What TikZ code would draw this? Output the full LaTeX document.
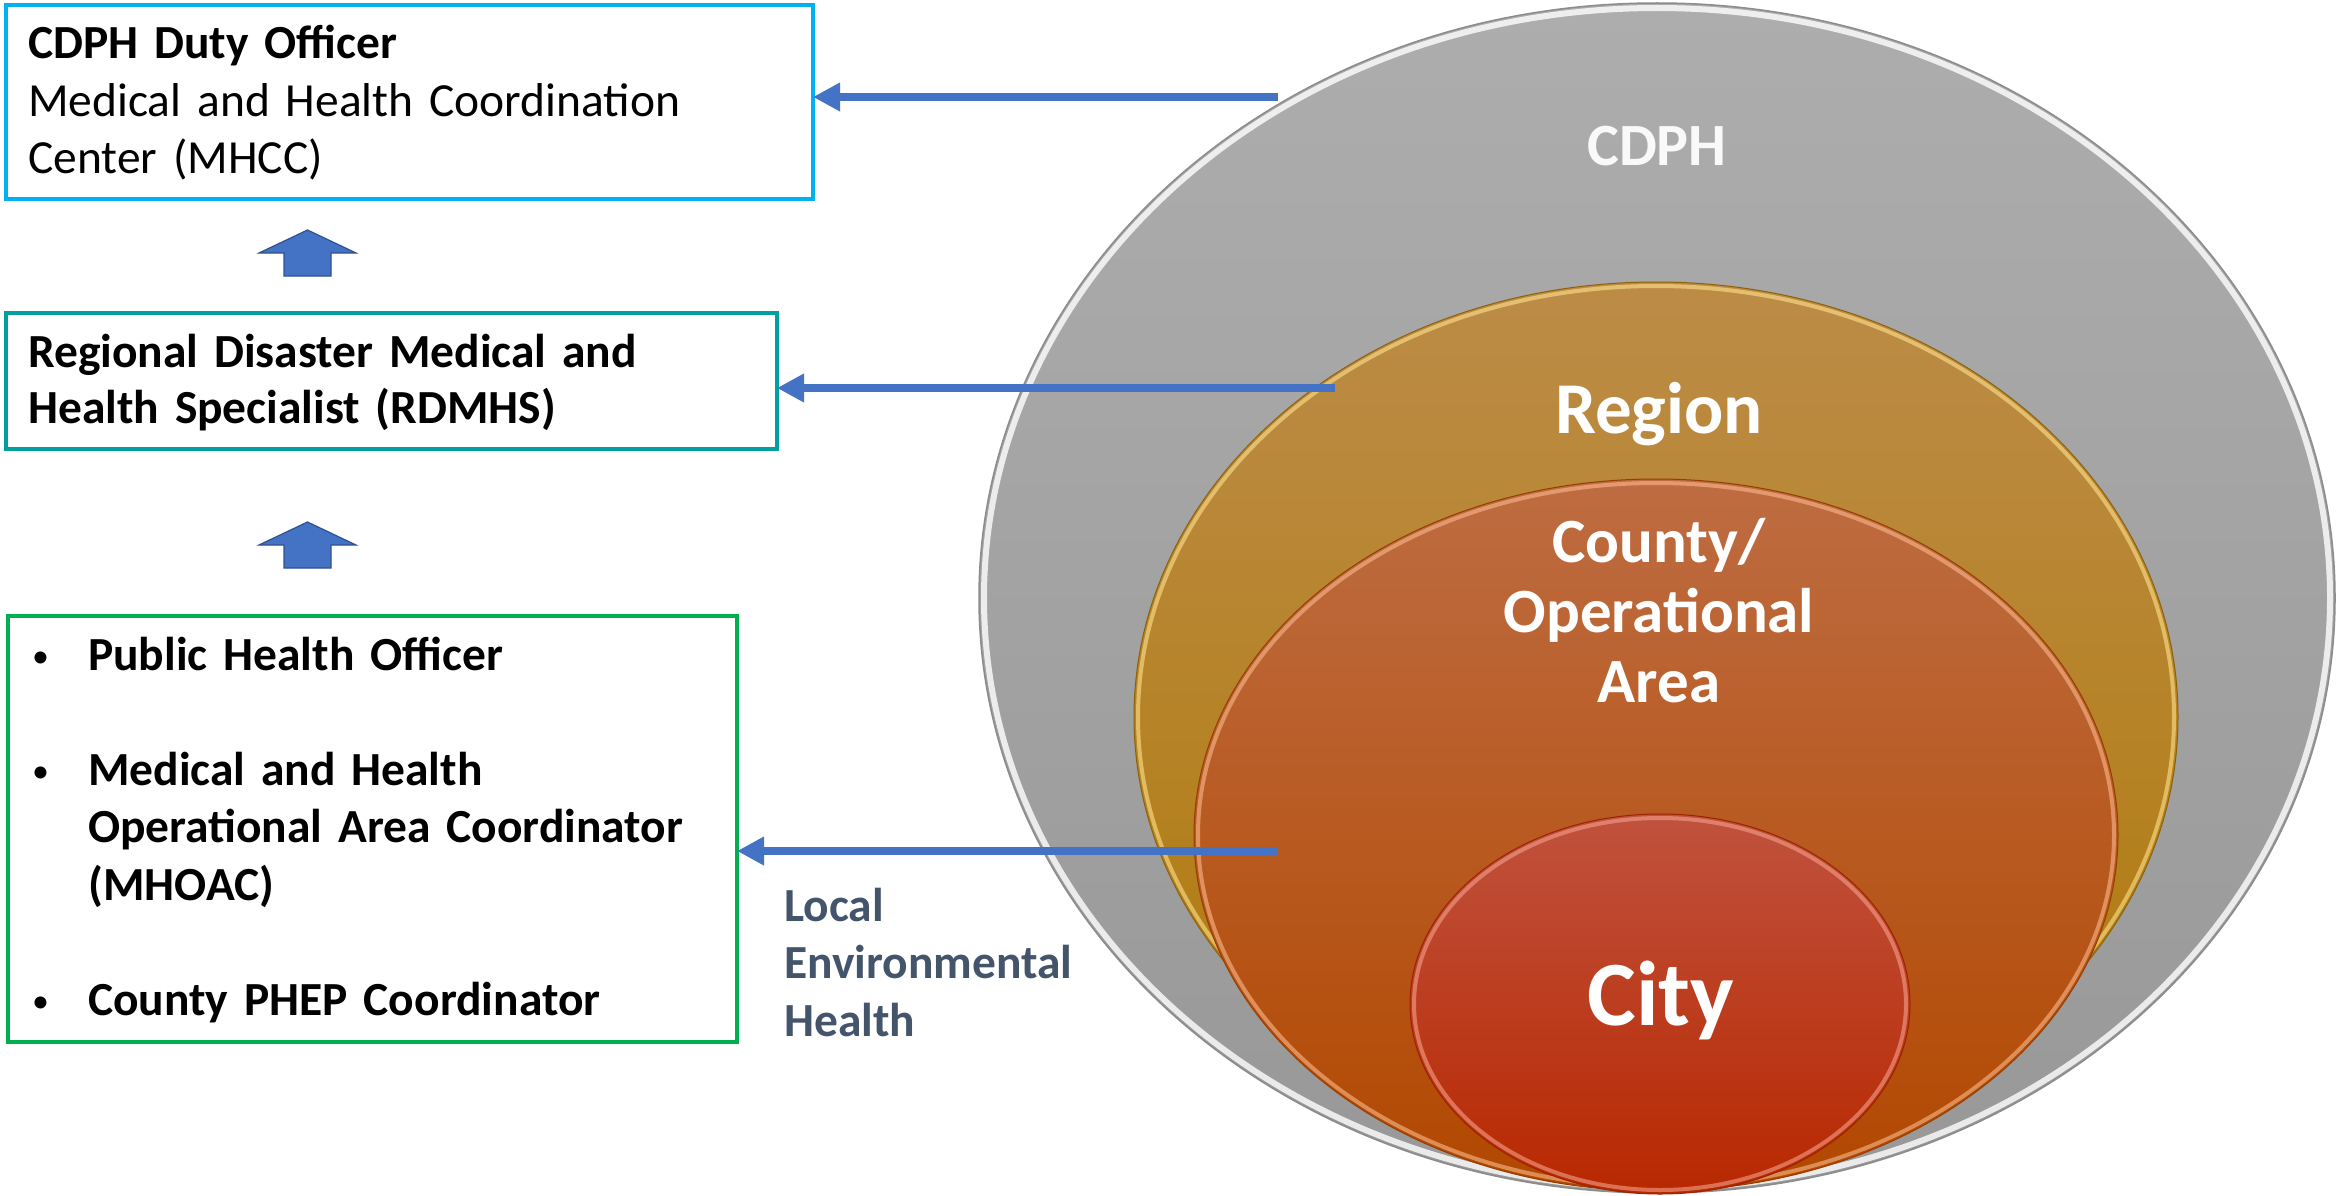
\documentclass[tikz,border=0pt]{standalone}
\usepackage{fontspec}
\setmainfont{Carlito}[WordSpace=0.75]
\usetikzlibrary{arrows.meta}
\definecolor{cyanbox}{RGB}{0,176,240}
\definecolor{tealbox}{RGB}{0,160,160}
\definecolor{greenbox}{RGB}{0,176,80}
\definecolor{arrowblue}{RGB}{68,114,196}
\definecolor{arrowedge}{RGB}{47,82,143}
\definecolor{slate}{RGB}{68,84,106}
\definecolor{grayT}{RGB}{173,173,173}
\definecolor{grayB}{RGB}{152,152,152}
\definecolor{grayEdge}{RGB}{140,140,140}
\definecolor{goldT}{RGB}{188,140,72}
\definecolor{goldB}{RGB}{176,122,8}
\definecolor{goldRim}{RGB}{255,226,140}
\definecolor{cntyT}{RGB}{190,108,66}
\definecolor{cntyB}{RGB}{178,72,0}
\definecolor{cntyRim}{RGB}{250,185,140}
\definecolor{cityT}{RGB}{192,82,62}
\definecolor{cityB}{RGB}{184,40,0}
\definecolor{cityRim}{RGB}{245,160,140}
\newcommand{\smallbul}{\makebox[56pt][l]{\raisebox{3pt}{\fontsize{34}{34}\selectfont\mdseries •}}}
\begin{document}
\begin{tikzpicture}[x=1pt,y=-1pt,
  boxframe/.style={draw=#1, line width=3.5pt, fill=white, inner sep=0pt, outer sep=0pt, anchor=north west},
  boxtext/.style={inner sep=0pt, anchor=base west, text width=#1, align=left,
    font=\fontsize{47.5}{57.5}\selectfont},
  conn/.style={draw=arrowblue, line width=8pt, -{Triangle[length=27pt,width=27pt]}},
  uparrow/.style={fill=arrowblue, draw=arrowedge, line width=1.2pt},
  circtxt/.style={inner sep=0pt, text=white, anchor=base, align=center, text width=500pt}
]
\fill[white] (0,0) rectangle (2343,1196);
\useasboundingbox (0,0) rectangle (2343,1196);

% ---- nested ellipses ----
\shade[top color=grayT, bottom color=grayB] (1657,598) ellipse [x radius=678, y radius=595];
\draw[white, line width=6pt, opacity=0.8] (1657,598) ellipse [x radius=673, y radius=590];
\draw[grayEdge, line width=1.5pt] (1657,598) ellipse [x radius=678, y radius=595];

\shade[top color=goldT, bottom color=goldB] (1656,717) ellipse [x radius=522, y radius=435];
\draw[goldRim, line width=4pt, opacity=0.6] (1656,717) ellipse [x radius=518, y radius=431];
\draw[goldB!80!black, line width=1pt] (1656,717) ellipse [x radius=522, y radius=435];

\shade[top color=cntyT, bottom color=cntyB] (1656,835) ellipse [x radius=462, y radius=356];
\draw[cntyRim, line width=4pt, opacity=0.6] (1656,835) ellipse [x radius=458, y radius=352];
\draw[cntyB!85!black, line width=1pt] (1656,835) ellipse [x radius=462, y radius=356];

\shade[top color=cityT, bottom color=cityB] (1660,1004) ellipse [x radius=250, y radius=190];
\draw[cityRim, line width=4pt, opacity=0.6] (1660,1004) ellipse [x radius=246, y radius=186];
\draw[cityB!85!black, line width=1pt] (1660,1004) ellipse [x radius=250, y radius=190];

% ---- ellipse labels ----
\node[circtxt, text=white!95!gray, font=\fontsize{60}{60}\selectfont\bfseries] (cdph) at (1657,165) {CDPH};
\node[circtxt, font=\fontsize{73}{73}\selectfont\bfseries] (region) at (1659,433) {Region};
\node[circtxt, font=\fontsize{63}{70}\selectfont\bfseries] (county) at (1659,562) {County/\\Operational\\Area};
\node[circtxt, font=\fontsize{92}{92}\selectfont\bfseries] (city) at (1661,1025) {City};

% ---- left boxes ----
\node[boxframe=cyanbox, minimum width=807pt, minimum height=194pt] (duty) at (6,5) {};
\node[boxtext=770pt] (dutytxt) at (28,59) {\textbf{CDPH Duty Officer}\\Medical and Health Coordination\\Center (MHCC)};

\node[boxframe=tealbox, minimum width=771pt, minimum height=136pt] (rdmhs) at (6,313) {};
\node[boxtext=740pt, font=\fontsize{47.5}{56}\selectfont\bfseries] (rdmhstxt) at (28,367) {Regional Disaster Medical and\\Health Specialist (RDMHS)};

\node[boxframe=greenbox, minimum width=729pt, minimum height=426pt] (local) at (8,616) {};
\node[boxtext=690pt, font=\fontsize{47.5}{57.5}\selectfont\bfseries] (localtxt) at (32,670)
  {\smallbul Public Health Officer\\[57.5pt]
   \smallbul Medical and Health\\
   \hspace*{56pt}Operational Area Coordinator\\
   \hspace*{56pt}(MHOAC)\\[57.5pt]
   \smallbul County PHEP Coordinator};

\node[boxtext=320pt, text=slate, font=\fontsize{47.5}{57.5}\selectfont\bfseries] (leh) at (784,921)
  {Local\\Environmental\\Health};

% ---- up block arrows ----
\path[uparrow] (284,276) -- (284,253) -- (259,253) -- (307.5,230) -- (356,253) -- (331,253) -- (331,276) -- cycle;
\path[uparrow] (284,568) -- (284,545) -- (259,545) -- (307.5,522) -- (356,545) -- (331,545) -- (331,568) -- cycle;

% ---- horizontal connectors ----
\coordinate (fromcdph) at (1278,97);
\coordinate (fromregion) at (1335,388);
\coordinate (fromcounty) at (1278,851);
\draw[conn] (fromcdph) -- (fromcdph -| duty.east);
\draw[conn] (fromregion) -- (fromregion -| rdmhs.east);
\draw[conn] (fromcounty) -- (fromcounty -| local.east);
\end{tikzpicture}
\end{document}
